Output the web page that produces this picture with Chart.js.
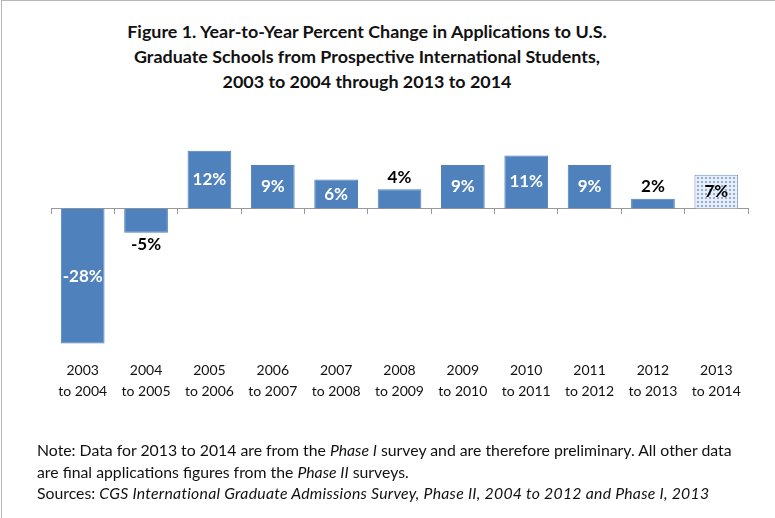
<!DOCTYPE html>
<html>
<head>
<meta charset="utf-8">
<script src="https://cdn.jsdelivr.net/npm/chart.js@4.4.1/dist/chart.umd.min.js"></script>
<style>
  html, body { margin: 0; padding: 0; background: #fff; }
  #wrap { position: relative; width: 775px; height: 518px; overflow: hidden; background: #fff; }
  #frame { position: absolute; left: 1px; top: 0; width: 774px; height: 518px; border-top: 1px solid #b8b8b8; border-left: 1px solid #b8b8b8; box-sizing: border-box; pointer-events: none; }
  #title { position: absolute; left: 0; top: 19px; width: 734px; text-align: center; font-family: Lato, "Open Sans", sans-serif; font-weight: bold; font-size: 17.9px; line-height: 25px; color: #111; }
  #notes { position: absolute; left: 37px; top: 439px; font-family: Lato, "Open Sans", sans-serif; font-size: 15.8px; line-height: 21.5px; color: #111; white-space: nowrap; }
  #notes .src { letter-spacing: 0.25px; }
  canvas { position: absolute; left: 0; top: 0; }
</style>
</head>
<body>
<div id="wrap">
  <div id="title">Figure 1. Year-to-Year Percent Change in Applications to U.S.<br>Graduate Schools from Prospective International Students,<br>2003 to 2004 through 2013 to 2014</div>
  <canvas id="c" width="775" height="518"></canvas>
  <div id="notes">Note: Data for 2013 to 2014 are from the <i>Phase I</i> survey and are therefore preliminary. All other data<br>are final applications figures from the <i>Phase II</i> surveys.<br>Sources: <i class="src">CGS International Graduate Admissions Survey, Phase II, 2004 to 2012 and Phase I, 2013</i></div>
  <div id="frame"></div>
</div>
<script>
const categories = [
  ["2003", "to 2004"], ["2004", "to 2005"], ["2005", "to 2006"], ["2006", "to 2007"],
  ["2007", "to 2008"], ["2008", "to 2009"], ["2009", "to 2010"], ["2010", "to 2011"],
  ["2011", "to 2012"], ["2012", "to 2013"], ["2013", "to 2014"]
];
const percentChange = [-28, -5, 12, 9, 6, 4, 9, 11, 9, 2, 7];
const preliminary = [false, false, false, false, false, false, false, false, false, false, true];
const valueLabels = ["-28%", "-5%", "12%", "9%", "6%", "4%", "9%", "11%", "9%", "2%", "7%"];
const labelInside = [true, false, true, true, true, false, true, true, true, false, true];

const BLUE = "#4f81bd";

function makeDotPattern() {
  const p = document.createElement("canvas");
  p.width = 4; p.height = 4;
  const g = p.getContext("2d");
  g.fillStyle = "#e8eef7";
  g.fillRect(0, 0, 4, 4);
  g.fillStyle = "#93acd3";
  g.fillRect(1, 1, 2, 2);
  return document.getElementById("c").getContext("2d").createPattern(p, "repeat");
}
const dots = makeDotPattern();

const valueLabelPlugin = {
  id: "valueLabels",
  afterDatasetsDraw(chart) {
    const ctx = chart.ctx;
    const meta = chart.getDatasetMeta(0);
    ctx.save();
    ctx.font = "bold 17px Lato, 'Open Sans', sans-serif";
    ctx.textAlign = "center";
    ctx.textBaseline = "middle";
    meta.data.forEach((bar, i) => {
      const v = percentChange[i];
      let y;
      if (labelInside[i]) {
        y = (bar.y + bar.base) / 2;
        ctx.fillStyle = preliminary[i] ? "#000" : "#fff";
      } else {
        y = v >= 0 ? bar.y - 12 : bar.y + 12;
        ctx.fillStyle = "#000";
      }
      ctx.fillText(valueLabels[i], bar.x, y);
    });
    ctx.restore();
  }
};

new Chart(document.getElementById("c"), {
  type: "bar",
  data: {
    labels: categories,
    datasets: [{
      data: percentChange,
      backgroundColor: preliminary.map(p => p ? dots : BLUE),
      borderColor: preliminary.map(p => p ? "#6a93c6" : BLUE),
      borderWidth: 1,
      barPercentage: 0.69,
      categoryPercentage: 1.0
    }]
  },
  options: {
    responsive: false,
    animation: false,
    devicePixelRatio: 1,
    layout: { padding: { left: 51, right: 27, top: 141, bottom: 102 } },
    plugins: { legend: { display: false }, tooltip: { enabled: false }, title: { display: false } },
    scales: {
      x: {
        position: "bottom",
        grid: { display: false, drawTicks: false },
        border: { display: false },
        ticks: {
          padding: 15,
          color: "#111",
          maxRotation: 0,
          autoSkip: false,
          font: { family: "Lato, 'Open Sans', sans-serif", size: 14, lineHeight: 1.43 }
        }
      },
      x2: {
        type: "category",
        position: { y: 0 },
        grid: { display: true, drawOnChartArea: false, drawTicks: true, tickLength: 5, offset: true, color: "#9a9a9a", lineWidth: 1 },
        border: { display: true, color: "#9a9a9a", width: 1 },
        ticks: { display: false }
      },
      y: {
        display: false,
        min: -28.5,
        max: 14
      }
    }
  },
  plugins: [valueLabelPlugin]
});
</script>
</body>
</html>
